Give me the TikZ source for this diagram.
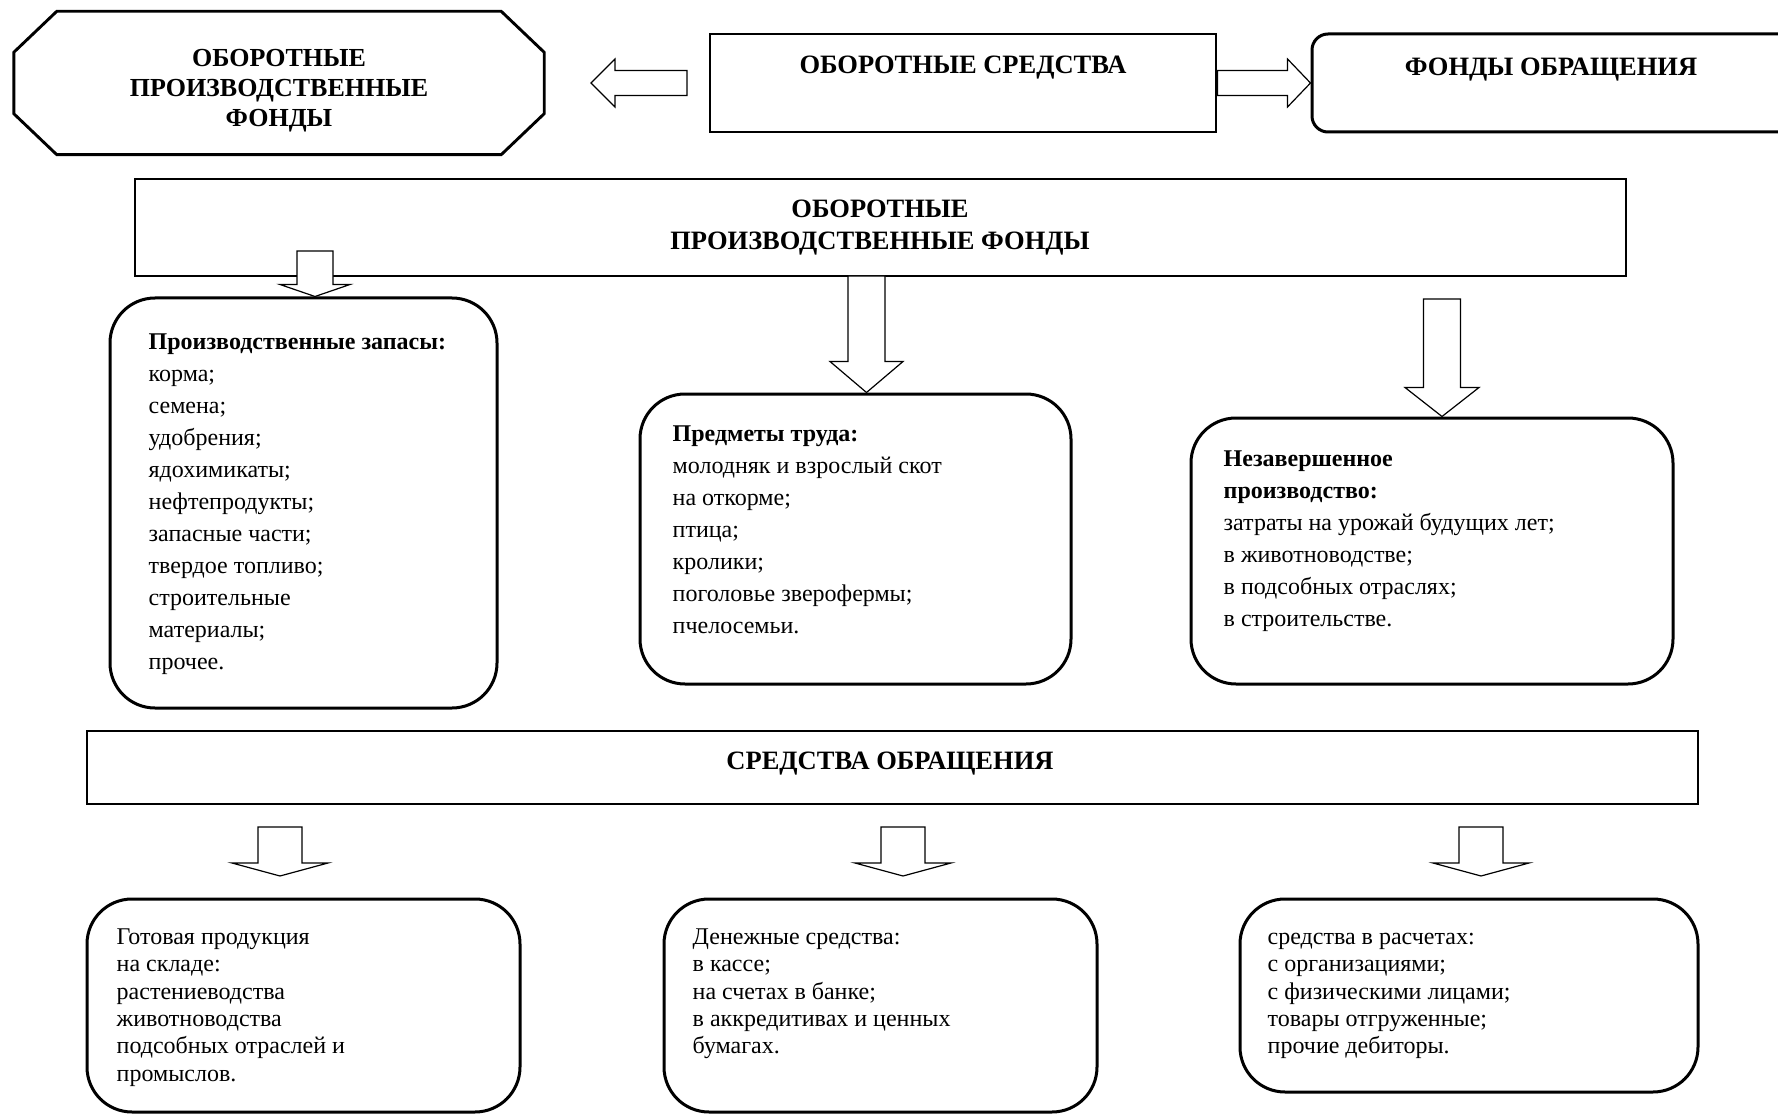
\documentclass[tikz,border=0pt]{standalone}
\usepackage{fontspec}
\setmainfont{Liberation Serif}
\usepackage{tikz}
\usetikzlibrary{positioning,calc}

\tikzset{
  sqbox/.style={draw, line width=2.9pt, inner sep=0pt},
  rndbox/.style={draw, line width=3pt, rounded corners=45pt, inner sep=0pt},
  hd/.style={font=\fontsize{26.5}{32}\selectfont\bfseries, align=center, inner sep=0pt},
  lst/.style={font=\fontsize{24}{32}\selectfont, align=left, inner sep=0pt},
  lstb/.style={font=\fontsize{24}{27.4}\selectfont, align=left, inner sep=0pt},
  hollow/.style={draw, line width=1.2pt, fill=white},
}

% hollow block arrows: from, tip, half shaft, half head, head length
\newcommand{\hollowdown}[5]{\draw[hollow] let \p1=(#1), \p2=(#2) in
  (\x2-#3,\y1) -- (\x2-#3,\y2+#5) -- (\x2-#4,\y2+#5) -- (\x2,\y2)
  -- (\x2+#4,\y2+#5) -- (\x2+#3,\y2+#5) -- (\x2+#3,\y1) -- cycle;}
\newcommand{\hollowright}[5]{\draw[hollow] let \p1=(#1), \p2=(#2) in
  (\x1,\y2+#3) -- (\x2-#5,\y2+#3) -- (\x2-#5,\y2+#4) -- (\x2,\y2)
  -- (\x2-#5,\y2-#4) -- (\x2-#5,\y2-#3) -- (\x1,\y2-#3) -- cycle;}
\newcommand{\hollowleft}[5]{\draw[hollow] let \p1=(#1), \p2=(#2) in
  (\x1,\y2+#3) -- (\x2+#5,\y2+#3) -- (\x2+#5,\y2+#4) -- (\x2,\y2)
  -- (\x2+#5,\y2-#4) -- (\x2+#5,\y2-#3) -- (\x1,\y2-#3) -- cycle;}

\begin{document}
\begin{tikzpicture}[x=1pt,y=-1pt]
\useasboundingbox (0,0) rectangle (1778,1115);
\clip (0,0) rectangle (1778,1115);

% top row
\node[minimum width=530pt, minimum height=143pt, inner sep=0pt] (opfl) at (279,83) {};
\draw[line width=2.9pt] ([xshift=43pt]opfl.north west) -- ([xshift=-43pt]opfl.north east)
  -- ([yshift=-41pt]opfl.north east) -- ([yshift=41pt]opfl.south east)
  -- ([xshift=-43pt]opfl.south east) -- ([xshift=43pt]opfl.south west)
  -- ([yshift=41pt]opfl.south west) -- ([yshift=-41pt]opfl.north west) -- cycle;
\node[hd, font=\fontsize{26}{30}\selectfont\bfseries] (opflt) at (279,91)
  {ОБОРОТНЫЕ\\ПРОИЗВОДСТВЕННЫЕ\\ФОНДЫ};
\node[sqbox, minimum width=506pt, minimum height=98pt] (os) at (963,83) {};
\node[hd] (ost) at (963,68) {ОБОРОТНЫЕ СРЕДСТВА};
\node[rndbox, rounded corners=16pt, minimum width=490pt, minimum height=98pt] (fo) at (1557,83) {};
\node[hd] (fot) at (1551,70) {ФОНДЫ ОБРАЩЕНИЯ};

\coordinate (l1) at (687,83);
\coordinate (l2) at (591,83);
\hollowleft{l1}{l2}{12.5pt}{24pt}{24pt}
\hollowright{os.east}{fo.west}{12.5pt}{24pt}{23pt}

% производственные фонды
\node[sqbox, minimum width=1491pt, minimum height=97pt] (opf) at (880.5,227.5) {};
\node[hd] (opft) at (880,227.5) {ОБОРОТНЫЕ\\ПРОИЗВОДСТВЕННЫЕ ФОНДЫ};

\node[rndbox, minimum width=387pt, minimum height=410pt] (pz) at (303.5,503) {};
\node[lst, below right=30.5pt and 40pt of pz.north west] (pzt)
  {\strut\textbf{Производственные запасы:}\\корма;\\семена;\\удобрения;\\ядохимикаты;\\нефтепродукты;\\запасные части;\\твердое топливо;\\строительные\\материалы;\\прочее.};

\node[rndbox, minimum width=431pt, minimum height=290pt] (pt) at (855.5,539) {};
\node[lst, below right=26pt and 34pt of pt.north west] (ptt)
  {\strut\textbf{Предметы труда:}\\молодняк и взрослый скот\\на откорме;\\птица;\\кролики;\\поголовье зверофермы;\\пчелосемьи.};

\node[rndbox, minimum width=482pt, minimum height=266pt] (nz) at (1432,551) {};
\node[lst, below right=27pt and 34pt of nz.north west] (nzt)
  {\strut\textbf{Незавершенное}\\\textbf{производство:}\\затраты на урожай будущих лет;\\в животноводстве;\\в подсобных отраслях;\\в строительстве.};

\coordinate (a1) at (315,251);
\coordinate (a2) at (866.5,276);
\coordinate (a3) at (1442,299);
\hollowdown{a1}{a1 |- pz.north}{18pt}{35pt}{12pt}
\hollowdown{a2}{a2 |- pt.north}{18.5pt}{36.5pt}{31pt}
\hollowdown{a3}{a3 |- nz.north}{18.5pt}{37pt}{29pt}

% средства обращения
\node[sqbox, minimum width=1611pt, minimum height=73pt] (so) at (892.5,767.5) {};
\node[hd] (sot) at (890,763.5) {СРЕДСТВА ОБРАЩЕНИЯ};

\node[rndbox, minimum width=433pt, minimum height=213pt] (gp) at (303.5,1005.5) {};
\node[lstb, below right=27.5pt and 31pt of gp.north west] (gpt)
  {\strut Готовая продукция\\на складе:\\растениеводства\\животноводства\\подсобных отраслей и\\промыслов.};

\node[rndbox, minimum width=433pt, minimum height=213pt] (ds) at (880.5,1005.5) {};
\node[lstb, below right=27.5pt and 30pt of ds.north west] (dst)
  {\strut Денежные средства:\\в кассе;\\на счетах в банке;\\в аккредитивах и ценных\\бумагах.};

\node[rndbox, minimum width=458pt, minimum height=193pt] (sr) at (1469,995.5) {};
\node[lstb, below right=27.5pt and 29pt of sr.north west] (srt)
  {\strut средства в расчетах:\\с организациями;\\с физическими лицами;\\товары отгруженные;\\прочие дебиторы.};

\coordinate (b1) at (280,827);
\coordinate (b2) at (903,827);
\coordinate (b3) at (1481,827);
\coordinate (b1e) at (280,876);
\coordinate (b2e) at (903,876);
\coordinate (b3e) at (1481,876);
\hollowdown{b1}{b1e}{22pt}{48pt}{13pt}
\hollowdown{b2}{b2e}{22pt}{48pt}{13pt}
\hollowdown{b3}{b3e}{22pt}{48pt}{13pt}
\end{tikzpicture}
\end{document}
